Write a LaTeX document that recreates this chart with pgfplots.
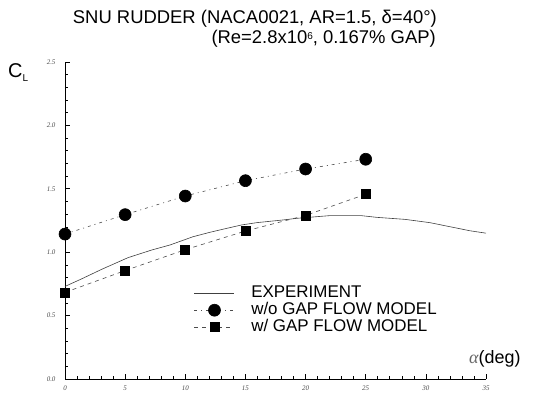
\documentclass[border=0pt]{standalone}
\usepackage{fontspec}
\setmainfont{Liberation Sans}
\newfontfamily\tickfont{Liberation Serif}
\usepackage{pgfplots}
\pgfplotsset{compat=1.18}
\begin{document}
\begin{tikzpicture}
\path[use as bounding box] (0,0) rectangle (536bp,398bp);
\begin{axis}[
  at={(65bp,19bp)}, anchor=south west,
  scale only axis, width=421bp, height=317bp,
  xmin=0, xmax=35, ymin=0, ymax=2.5,
  axis lines=left, axis line style={-, line width=0.9bp},
  xtick={0,5,...,35}, ytick={0,0.5,...,2.5},
  minor x tick num=4, minor y tick num=4,
  tick align=inside,
  major tick length=5bp, minor tick length=3bp,
  tick style={line width=0.6bp, black},
  /pgf/number format/assume math mode=true,
  xticklabel style={font=\tickfont\itshape\fontsize{7}{7}\selectfont, text=black!70, yshift=-3bp},
  yticklabel style={font=\tickfont\itshape\fontsize{7}{7}\selectfont, text=black!70, xshift=-6bp},
  yticklabel={\pgfmathprintnumber[fixed,fixed zerofill,precision=1]{\tick}},
  clip=false,
  legend cell align=left,
  legend style={draw=none, fill=none, inner sep=0pt,
    at={(0.3064,0.298)}, anchor=north west,
    font=\fontsize{17}{17}\selectfont,
    nodes={inner sep=0.5bp, text height=12.5bp, text depth=3.5bp},
    column sep=16bp, row sep=0pt},
  legend image code/.code={\draw[mark repeat=2,mark phase=2,#1] plot coordinates {(0bp,0bp) (20bp,0bp) (40bp,0bp)};},
]
\addplot[black!75, line width=0.6bp, no marks] coordinates {
(0,0.73) (1.39,0.79) (3.05,0.865) (5.24,0.957) (7.2,1.017) (8.73,1.057)
(10.64,1.122) (12.05,1.157) (13.44,1.188) (14.69,1.215) (15.94,1.233)
(18.1,1.254) (19.26,1.267) (21.95,1.288) (24.66,1.288) (25.9,1.275)
(28.26,1.259) (30.34,1.233) (32.0,1.201) (33.67,1.169) (35,1.15)};
\addlegendentry{EXPERIMENT}
\addplot[black!70, line width=0.6bp, dash pattern=on 3bp off 4bp on 1bp off 4bp,
  mark=*, mark size=6bp, mark options={solid, fill=black, draw=black}] coordinates {
(0,1.143) (5,1.296) (10,1.443) (15,1.564) (20,1.656) (25,1.733)};
\addlegendentry{w/o GAP FLOW MODEL}
\addplot[black!70, line width=0.6bp, dash pattern=on 4bp off 4bp,
  mark=square*, mark size=4.5bp, mark options={solid, fill=black, draw=black}] coordinates {
(0,0.683) (5,0.855) (10,1.02) (15,1.167) (20,1.29) (25,1.457)};
\addlegendentry{w/ GAP FLOW MODEL}
\end{axis}
\node[anchor=base east, font=\fontsize{18.5}{18.5}\selectfont, inner sep=0pt] at (437bp,374bp)
  {SNU RUDDER (NACA0021, AR=1.5, δ=40°)};
\node[anchor=base east, font=\fontsize{18.5}{18.5}\selectfont, inner sep=0pt] at (436bp,354bp)
  {(Re=2.8x10\raisebox{4.5bp}{\fontsize{10}{10}\selectfont 6}, 0.167\% GAP)};
\node[anchor=base west, font=\fontsize{20}{20}\selectfont, inner sep=0pt] at (8bp,320bp)
  {C\raisebox{-4bp}{\fontsize{10}{10}\selectfont L}};
\node[anchor=base west, font=\fontsize{18}{18}\selectfont, inner sep=0pt] at (469bp,35bp)
  {\textcolor{black!60}{\tickfont\itshape α}(deg)};
\end{tikzpicture}
\end{document}
